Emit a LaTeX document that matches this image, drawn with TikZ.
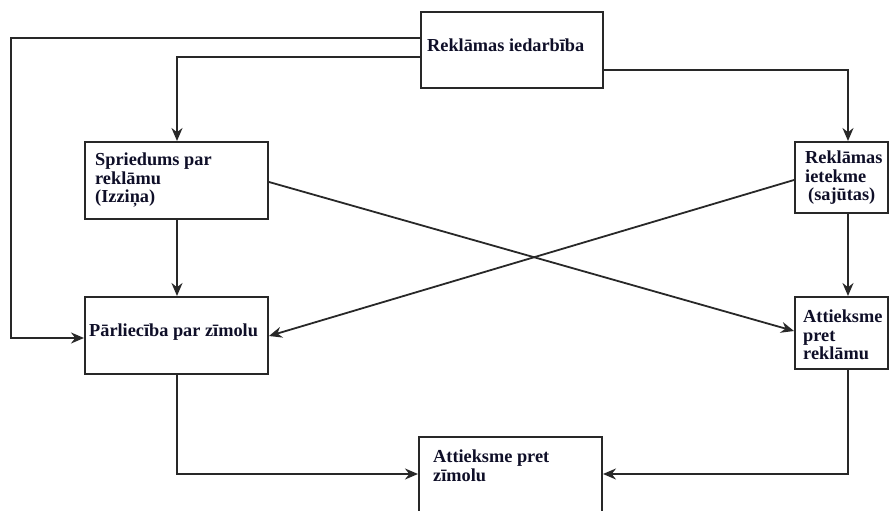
\documentclass[tikz,border=0pt]{standalone}
\usepackage{fontspec}
\setmainfont{Liberation Serif}
\usetikzlibrary{arrows.meta,positioning,calc}
\definecolor{linec}{RGB}{40,40,40}
\definecolor{txtc}{RGB}{15,15,40}
\begin{document}
\begin{tikzpicture}[x=1pt,y=-1pt,
  box/.style={draw=linec,line width=2pt,rectangle,inner sep=0pt,fill=white},
  lbl/.style={anchor=north west,inner sep=0pt,align=left,text=txtc,
    font=\fontsize{18.3}{18.3}\selectfont\bfseries},
  conn/.style={draw=linec,line width=1.8pt},
  arr/.style={conn,-{Stealth[length=13pt,width=11pt]}}]
\useasboundingbox (0,0) rectangle (892,511);
\clip (0,0) rectangle (892,511);
% boxes
\node[box,minimum width=182pt,minimum height=76pt] (top) at (512,50) {};
\node[box,minimum width=183pt,minimum height=77pt] (sp) at (176.5,180.5) {};
\node[box,minimum width=93pt,minimum height=71pt] (ri) at (841.5,177.5) {};
\node[box,minimum width=183pt,minimum height=77pt] (pz) at (176.5,335.5) {};
\node[box,minimum width=93pt,minimum height=72pt] (ar) at (841.5,333) {};
\node[box,minimum width=183pt,minimum height=90pt] (az) at (510.5,482) {};
% labels
\node[lbl] (t1) at (427,39) {Reklāmas iedarbība};
\node[lbl] (t2) at (95,153) {Spriedums par\\reklāmu\\(Izziņa)};
\node[lbl] (t3) at (805,151) {Reklāmas\\ietekme\\\hspace{3pt}(sajūtas)};
\node[lbl] (t4) at (89,324) {Pārliecība par zīmolu};
\node[lbl] (t5) at (803,310) {Attieksme\\pret\\reklāmu};
\node[lbl] (t6) at (433,450) {Attieksme pret\\zīmolu};
% connectors
\draw[arr] (top.west |- 0,38) -- (11,38) -- (11,338) -- (pz.west |- 0,338);
\draw[arr] (top.west |- 0,57) -- (177,57) -- (sp.north -| 177,0);
\draw[arr] (top.east |- 0,70) -- (848,70) -- (ri.north -| 848,0);
\draw[arr] (sp.south -| 177,0) -- (pz.north -| 177,0);
\draw[arr] (ri.south -| 848,0) -- (ar.north -| 848,0);
\draw[arr] (sp.east |- 0,182) -- (ar.west |- 0,331);
\draw[arr] (ri.west |- 0,180) -- (pz.east |- 0,336);
\draw[arr] (pz.south -| 177,0) -- (177,474) -- (az.west |- 0,474);
\draw[arr] (ar.south -| 848,0) -- (848,474) -- (az.east |- 0,474);
\end{tikzpicture}
\end{document}
